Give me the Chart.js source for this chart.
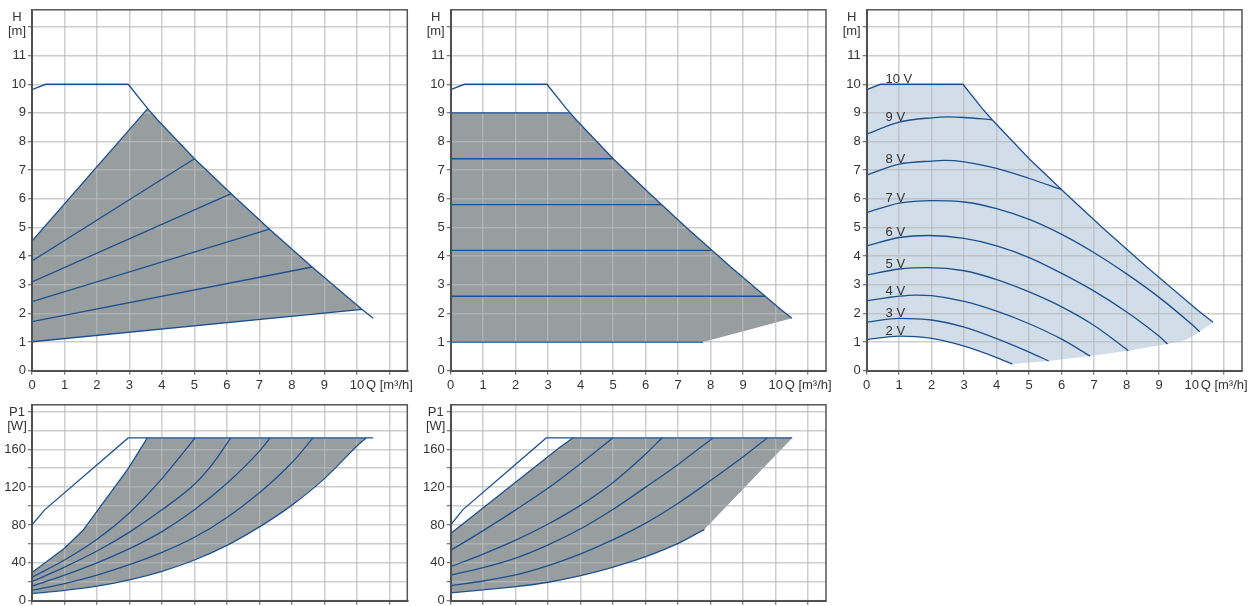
<!DOCTYPE html>
<html>
<head>
<meta charset="utf-8">
<script src="https://cdn.jsdelivr.net/npm/chart.js@4.4.1/dist/chart.umd.min.js"></script>
<style>
  html, body { margin: 0; padding: 0; background: #fff; overflow: hidden; }
  canvas { position: absolute; }
</style>
</head>
<body>
<canvas id="hProp" width="420" height="395" style="left:0;top:0"></canvas>
<canvas id="hConst" width="420" height="395" style="left:418px;top:0"></canvas>
<canvas id="hVolt" width="420" height="395" style="left:834px;top:0"></canvas>
<canvas id="pProp" width="420" height="220" style="left:0;top:395px"></canvas>
<canvas id="pConst" width="420" height="220" style="left:418px;top:395px"></canvas>
<script>
// Q [m³/h] vs H [m] : maximum curve (also the 10 V curve)
const maxQ = [0, 0.42, 2.96, 3.56, 3.86, 5.0, 6.13, 7.31, 8.62, 10.16, 10.5, 10.66];
const maxH = [9.81, 10.0, 10.0, 9.15, 8.76, 7.40, 6.18, 4.94, 3.62, 2.14, 1.83, 1.69];

// proportional pressure lines (start at Q=0, end on max curve)
const ppStartH = [4.53, 3.83, 3.10, 2.41, 1.71, 1.01];
const ppEndQ = [3.56, 5.0, 6.13, 7.31, 8.62, 10.16];
const ppEndH = [9.15, 7.40, 6.18, 4.94, 3.62, 2.14];

// constant pressure lines
const cpH = [9.0, 7.4, 5.8, 4.2, 2.6, 1.0];
const cpEndQ = [3.67, 5.0, 6.48, 8.03, 9.68, 7.77];

// constant curve (0-10 V)
const voltLabels = ['10 V', '9 V', '8 V', '7 V', '6 V', '5 V', '4 V', '3 V', '2 V'];
const v9Q = [0, 1, 2, 2.5, 3, 3.86];
const v9H = [8.26, 8.68, 8.83, 8.86, 8.84, 8.76];
const v8Q = [0, 1, 2, 2.4, 3, 4, 5, 6.0];
const v8H = [6.83, 7.21, 7.32, 7.34, 7.29, 7.06, 6.71, 6.32];
const v7Q = [0, 1, 2, 3, 4, 5, 6, 7, 8, 9, 10, 10.25];
const v7H = [5.52, 5.85, 5.94, 5.89, 5.66, 5.28, 4.76, 4.12, 3.38, 2.56, 1.62, 1.36];
const v6Q = [0, 1, 1.9, 3, 4, 5, 6, 7, 8, 9, 9.26];
const v6H = [4.36, 4.65, 4.72, 4.62, 4.36, 3.95, 3.4, 2.78, 2.05, 1.2, 0.93];
const v5Q = [0, 1, 1.9, 3, 4, 5, 6, 7, 8.05];
const v5H = [3.34, 3.55, 3.6, 3.49, 3.18, 2.75, 2.23, 1.58, 0.70];
const v4Q = [0, 1, 1.5, 2, 3, 4, 5, 6, 6.88];
const v4H = [2.44, 2.6, 2.64, 2.62, 2.42, 2.08, 1.64, 1.1, 0.51];
const v3Q = [0, 1, 2, 3, 4, 5, 5.6];
const v3H = [1.69, 1.83, 1.77, 1.52, 1.12, 0.65, 0.34];
const v2Q = [0, 1, 2, 3, 4, 4.48];
const v2H = [1.09, 1.21, 1.13, 0.86, 0.46, 0.23];
// lower edge of the 0-10 V area
const edgeQ = [10.66, 10.25, 9.82, 9.26, 8.05, 6.88, 5.6, 4.48];
const edgeH = [1.69, 1.36, 1.07, 0.93, 0.70, 0.51, 0.34, 0.23];

// P1 [W] for proportional pressure
const propMaxQ = [0, 0.39, 2.96, 10.5];
const propMaxW = [80.2, 96, 172, 172];
const propQ = [
  [0, 1, 1.57, 2.96, 3.55],
  [0, 1, 2, 3, 4, 5.02],
  [0, 1, 2, 3, 4, 5, 5.5, 6.12],
  [0, 1, 2, 3, 4, 5, 6, 7, 7.33],
  [0, 1, 2, 3, 4, 5, 6, 7, 8, 8.65],
  [0, 1, 2, 3, 4, 5, 6, 7, 8, 9, 9.7, 10, 10.29]
];
const propW = [
  [29.8, 55.5, 74.4, 139.5, 172],
  [24.7, 43, 65, 93, 129, 172],
  [20.2, 35.5, 52.5, 72.5, 96, 123, 142, 172],
  [15.4, 27, 40, 55, 73, 96, 124, 158, 172],
  [11, 18, 27, 38, 51, 67, 88, 114, 146, 172],
  [7.5, 11, 15.5, 22, 31, 43, 58.5, 78, 101, 129, 153, 163.5, 172]
];

// P1 [W] for constant pressure
const constMaxQ = [0, 0.37, 2.94, 10.51];
const constMaxW = [80.2, 96, 172, 172];
const constQ = [
  [0, 3.35, 3.76],
  [0, 1, 2, 3, 4, 4.99],
  [0, 1, 2, 3, 4, 5, 6, 6.5],
  [0, 1, 2, 3, 4, 5, 6, 7, 8.07],
  [0, 1, 2, 3, 4, 5, 6, 7, 8, 9, 9.74],
  [0, 1, 2, 3, 4, 5, 6, 7, 7.81]
];
const constW = [
  [70.9, 161.8, 172],
  [53.1, 74, 96, 119, 145, 172],
  [36, 49.3, 64, 81, 101, 125, 155, 172],
  [27.1, 35, 45, 59, 76, 96.6, 120, 144, 172],
  [16.1, 20.8, 27.2, 37, 49.5, 64.5, 82, 103, 127, 152, 172],
  [8.2, 11.5, 14.8, 19.5, 26.4, 35.5, 46.5, 60.5, 75.4]
];

const BLUE = '#1c5190';
const GRAY = '#989da0';
const LIGHT = '#d1dee9';
const GRID = 'rgba(185,185,185,0.7)';
const TEXT = '#333333';
const FONT = { family: "'Liberation Sans', Arial, sans-serif", size: 13 };

Chart.defaults.font.family = FONT.family;
Chart.defaults.font.size = FONT.size;
Chart.defaults.color = TEXT;

const pts = (qs, vs) => qs.map((q, i) => ({ x: q, y: vs[i] }));

function valueAt(qs, vs, q) {
  for (let i = 1; i < qs.length; i++) {
    if (q <= qs[i]) {
      const t = (q - qs[i - 1]) / (qs[i] - qs[i - 1]);
      return vs[i - 1] + t * (vs[i] - vs[i - 1]);
    }
  }
  return vs[vs.length - 1];
}

function curve(data, smooth) {
  return {
    data, borderColor: BLUE, borderWidth: 1.3, pointRadius: 0, fill: false,
    tension: 0, cubicInterpolationMode: smooth ? 'monotone' : 'default'
  };
}

function area(data, color) {
  return {
    data, fill: 'shape', backgroundColor: color, borderColor: 'rgba(0,0,0,0)',
    borderWidth: 1, pointRadius: 0, tension: 0
  };
}

// frame around the plot area
const frame = {
  id: 'frame',
  afterDraw(chart) {
    const { ctx, chartArea: a } = chart;
    ctx.save();
    ctx.strokeStyle = '#555';
    ctx.lineWidth = 1.5;
    ctx.strokeRect(a.left, a.top, a.right - a.left, a.bottom - a.top);
    ctx.restore();
  }
};

// "H [m]" / "P1 [W]" above the y ticks
const unitLabel = {
  id: 'unitLabel',
  afterDraw(chart, args, opts) {
    if (!opts.lines) return;
    const { ctx, chartArea: a } = chart;
    ctx.save();
    ctx.font = FONT.size + 'px ' + FONT.family;
    ctx.fillStyle = TEXT;
    ctx.textAlign = 'center';
    ctx.textBaseline = 'middle';
    opts.lines.forEach((t, i) => ctx.fillText(t, a.left - 15, a.top + 7.5 + i * 14));
    ctx.restore();
  }
};

// voltage tags on the 0-10 V curves
const voltTags = {
  id: 'voltTags',
  afterDatasetsDraw(chart, args, opts) {
    if (!opts.curves) return;
    const { ctx } = chart;
    const xs = chart.scales.x, ys = chart.scales.y;
    ctx.save();
    ctx.font = FONT.size + 'px ' + FONT.family;
    ctx.fillStyle = TEXT;
    ctx.textAlign = 'left';
    ctx.textBaseline = 'middle';
    opts.curves.forEach((c, i) => {
      ctx.fillText(voltLabels[i], xs.getPixelForValue(0.58), ys.getPixelForValue(valueAt(c[0], c[1], 1)) - 5);
    });
    ctx.restore();
  }
};

function makeChart(id, datasets, o) {
  return new Chart(document.getElementById(id), {
    type: 'line',
    data: { datasets },
    options: {
      responsive: false,
      animation: false,
      events: [],
      layout: { padding: o.pad },
      plugins: {
        legend: { display: false },
        tooltip: { enabled: false },
        filler: { drawTime: 'beforeDraw' },
        unitLabel: { lines: o.unit },
        voltTags: { curves: o.volts }
      },
      scales: {
        x: {
          type: 'linear', min: 0, max: 11.55,
          afterFit: s => { s.height = o.xh; },
          ticks: {
            display: o.xLabels, stepSize: 1, includeBounds: false, autoSkip: false,
            maxRotation: 0, padding: 3,
            callback: v => (v === 11 ? 'Q [m³/h]' : v)
          },
          grid: { color: GRID, lineWidth: 1.5, tickLength: 4, tickColor: '#555', tickWidth: 1 },
          border: { color: '#444', width: 2 }
        },
        y: {
          type: 'linear', min: 0, max: o.ymax,
          afterFit: s => { s.width = 32; },
          ticks: {
            stepSize: o.ystep, includeBounds: false, autoSkip: false, padding: 2,
            callback: o.ytick
          },
          grid: { color: GRID, lineWidth: 1.5, tickLength: 4, tickColor: '#555', tickWidth: 1 },
          border: { color: '#444', width: 2 }
        }
      }
    },
    plugins: [frame, unitLabel, voltTags]
  });
}

const maxPts = pts(maxQ, maxH);
const topCut = maxPts.filter(p => p.x <= 10.5);
const hTick = v => (v === 12 ? '' : v);
const wTick = v => (v % 40 === 0 && v <= 160 ? v : '');

// --- proportional pressure, H ---
const propFill = [{ x: 0, y: ppStartH[0] }]
  .concat(maxPts.filter(p => p.x >= ppEndQ[0] && p.x <= ppEndQ[5]))
  .concat([{ x: 0, y: ppStartH[5] }]);
makeChart('hProp',
  [area(propFill, GRAY), curve(topCut, false)]
    .concat(ppStartH.map((h, i) => curve([{ x: 0, y: h }, { x: ppEndQ[i], y: ppEndH[i] }], false))),
  { pad: { left: 0, right: 12.7, top: 9.3, bottom: 0 }, xh: 24.3, xLabels: true,
    ymax: 12.6, ystep: 1, ytick: hTick, unit: ['H', '[m]'] });

// --- constant pressure, H ---
const constFill = [{ x: 0, y: cpH[0] }, { x: cpEndQ[0], y: cpH[0] }]
  .concat(topCut.filter(p => p.x > cpEndQ[0]))
  .concat([{ x: cpEndQ[5], y: cpH[5] }, { x: 0, y: cpH[5] }]);
makeChart('hConst',
  [area(constFill, GRAY), curve(topCut, false)]
    .concat(cpH.map((h, i) => curve([{ x: 0, y: h }, { x: cpEndQ[i], y: h }], false))),
  { pad: { left: 0.7, right: 12, top: 9.3, bottom: 0 }, xh: 24.3, xLabels: true,
    ymax: 12.6, ystep: 1, ytick: hTick, unit: ['H', '[m]'] });

// --- constant curve 0-10 V, H ---
const vq = [maxQ, v9Q, v8Q, v7Q, v6Q, v5Q, v4Q, v3Q, v2Q];
const vh = [maxH, v9H, v8H, v7H, v6H, v5H, v4H, v3H, v2H];
const voltFill = maxPts
  .concat(pts(edgeQ, edgeH).slice(1))
  .concat(pts(v2Q, v2H).reverse().slice(1));
makeChart('hVolt',
  [area(voltFill, LIGHT), curve(maxPts, false)]
    .concat(vq.slice(1).map((q, i) => curve(pts(q, vh[i + 1]), true))),
  { pad: { left: 0.7, right: 12, top: 9.3, bottom: 0 }, xh: 24.3, xLabels: true,
    ymax: 12.6, ystep: 1, ytick: hTick, unit: ['H', '[m]'],
    volts: vq.map((q, i) => [q, vh[i]]) });

// --- proportional pressure, P1 ---
const propWFill = pts(propQ[0], propW[0]).concat(pts(propQ[5], propW[5]).reverse());
makeChart('pProp',
  [area(propWFill, GRAY), curve(pts(propMaxQ, propMaxW), false)]
    .concat(propQ.map((q, i) => curve(pts(q, propW[i]), i > 0))),
  { pad: { left: 0, right: 12.7, top: 4.3, bottom: 0 }, xh: 14.3, xLabels: false,
    ymax: 207, ystep: 20, ytick: wTick, unit: ['P1', '[W]'] });

// --- constant pressure, P1 ---
const constWFill = pts(constQ[0], constW[0])
  .concat([{ x: constMaxQ[3], y: constMaxW[3] }])
  .concat(pts(constQ[5], constW[5]).reverse());
makeChart('pConst',
  [area(constWFill, GRAY), curve(pts(constMaxQ, constMaxW), false)]
    .concat(constQ.map((q, i) => curve(pts(q, constW[i]), i > 0))),
  { pad: { left: 0.7, right: 12, top: 4.3, bottom: 0 }, xh: 14.3, xLabels: false,
    ymax: 207, ystep: 20, ytick: wTick, unit: ['P1', '[W]'] });
</script>
</body>
</html>
